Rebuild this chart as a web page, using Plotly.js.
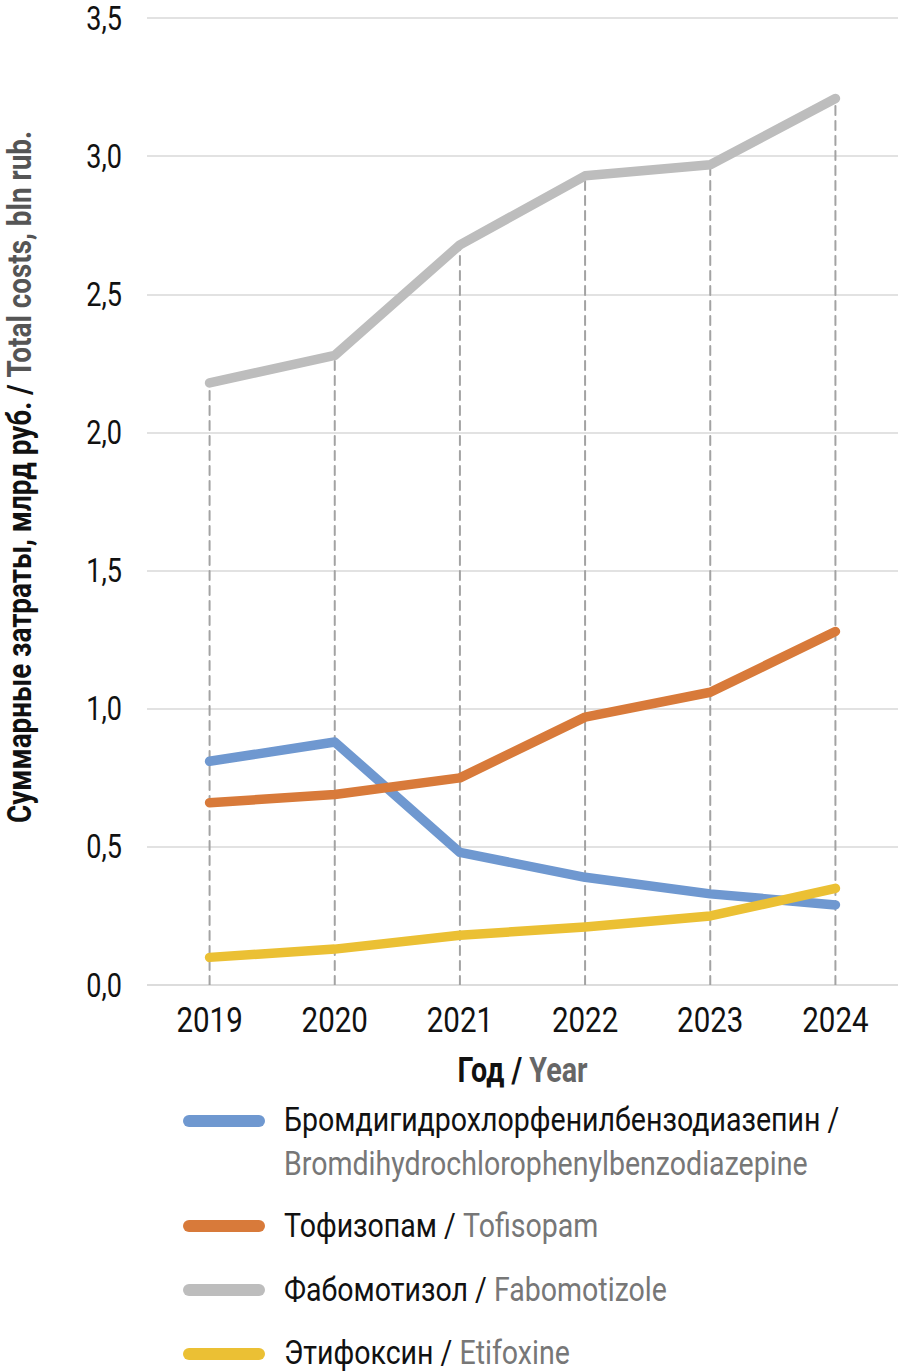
<!DOCTYPE html>
<html><head><meta charset="utf-8">
<script src="https://cdn.plot.ly/plotly-3.0.1.min.js"></script>
<style>
body{margin:0;background:#fff;}
.scatterlayer path.js-line{stroke-linecap:round;stroke-linejoin:round;}
.shapelayer path{stroke-linecap:round;}
</style>
</head><body>
<div id="chart" style="width:900px;height:1372px;"></div>
<script>
const years = ['2019','2020','2021','2022','2023','2024'];
const bromdihydro = [0.81, 0.88, 0.48, 0.39, 0.33, 0.29];
const tofisopam   = [0.66, 0.69, 0.75, 0.97, 1.06, 1.28];
const fabomotizole= [2.18, 2.28, 2.68, 2.93, 2.97, 3.21];
const etifoxine   = [0.10, 0.13, 0.18, 0.21, 0.25, 0.35];
const namesRu = ['Бромдигидрохлорфенилбензодиазепин', 'Тофизопам', 'Фабомотизол', 'Этифоксин'];
const namesEn = ['Bromdihydrochlorophenylbenzodiazepine', 'Tofisopam', 'Fabomotizole', 'Etifoxine'];
const yTickVals = [0, 0.5, 1, 1.5, 2, 2.5, 3, 3.5];
const yTitleRu = 'Суммарные затраты, млрд руб.';
const yTitleEn = 'Total costs, bln rub.';
const xTitleRu = 'Год';
const xTitleEn = 'Year';

const series = [bromdihydro, tofisopam, fabomotizole, etifoxine];
const colors = ['#6f98d0', '#d87a3a', '#bdbdbd', '#ebc034'];
const FONT = 'Roboto, "Liberation Sans", sans-serif';
const SQUEEZE = 0.82;
const SQUEEZE_LEGEND = 0.84;

// drop lines from the top series down to the axis
const dropX = [], dropY = [];
years.forEach((yr, i) => {
  const top = Math.max(...series.map(s => s[i]));
  dropX.push(yr, yr, null);
  dropY.push(0, top, null);
});

const traces = [{
  x: dropX, y: dropY, mode: 'lines', type: 'scatter', hoverinfo: 'skip',
  line: {color: '#a3a3a3', width: 2, dash: '9px,6px'}, showlegend: false
}];
series.forEach((s, i) => {
  traces.push({
    x: years, y: s, mode: 'lines', type: 'scatter', name: namesRu[i],
    line: {color: colors[i], width: 9.5}, showlegend: false
  });
});

const L = 147, T = 17, B = 387, W = 900, H = 1372;
const pw = W - L - 2, ph = H - T - B;
const px2x = p => (p - L) / pw;
const px2y = p => (H - B - p) / ph;

const legendY = [1140.5, 1225, 1289, 1352];
const legendLineY = [1121, 1226, 1290, 1354];
const annotations = [];
const shapes = [];
namesRu.forEach((n, i) => {
  const txt = i === 0
    ? n + ' /<br><span style="color:#777">' + namesEn[i] + '</span>'
    : n + ' / <span style="color:#777">' + namesEn[i] + '</span>';
  annotations.push({
    xref: 'paper', yref: 'paper', x: px2x(283), y: px2y(legendY[i]),
    xanchor: 'left', yanchor: 'middle', align: 'left', showarrow: false,
    borderpad: 0,
    text: txt, font: {family: FONT, size: 34, color: '#111'}
  });
  shapes.push({
    type: 'line', xref: 'paper', yref: 'paper',
    x0: px2x(189), x1: px2x(259), y0: px2y(legendLineY[i]), y1: px2y(legendLineY[i]),
    line: {color: colors[i], width: 12}
  });
});
annotations.push({
  xref: 'paper', yref: 'paper', x: px2x(19), y: px2y(477), textangle: -90,
  xanchor: 'center', yanchor: 'middle', showarrow: false, borderpad: 0,
  text: '<b>' + yTitleRu + ' / <span style="color:#555">' + yTitleEn + '</span></b>',
  font: {family: FONT, size: 34, color: '#111'}
});

const layout = {
  width: W, height: H,
  margin: {l: L, r: 2, t: T, b: B},
  paper_bgcolor: '#fff', plot_bgcolor: '#fff',
  separators: ',.',
  showlegend: false,
  font: {family: FONT, color: '#111'},
  xaxis: {
    type: 'category', range: [-0.5, 5.5], showgrid: false, zeroline: false,
    showline: false, ticks: '', ticklabelstandoff: 10,
    tickfont: {family: FONT, size: 36, color: '#111'},
    title: {text: '<b>' + xTitleRu + ' / <span style="color:#666">' + xTitleEn + '</span></b>',
            font: {family: FONT, size: 35, color: '#111'}, standoff: 17}
  },
  yaxis: {
    range: [0, 3.505], tickvals: yTickVals, tickformat: '.1f',
    showgrid: true, gridcolor: '#e2e2e2', gridwidth: 2,
    zeroline: true, zerolinecolor: '#dcdcdc', zerolinewidth: 2,
    showline: false, ticks: '', ticklabelstandoff: 24, ticklabeloverflow: 'allow',
    tickfont: {family: FONT, size: 33, color: '#111'}
  },
  annotations: annotations,
  shapes: shapes
};

// narrow the glyphs horizontally, the source chart uses a condensed face
function condense(gd) {
  gd.querySelectorAll('svg text').forEach(el => {
    const bb = el.getBBox();
    if (!bb.width) return;
    const anchor = el.getAttribute('text-anchor') || getComputedStyle(el).textAnchor || 'start';
    let ax = bb.x;
    if (anchor === 'middle') ax = bb.x + bb.width / 2;
    else if (anchor === 'end') ax = bb.x + bb.width;
    const isLegend = /Tofisopam|Fabomotizole|Etifoxine|Bromdihydro/.test(el.textContent);
    const k = isLegend ? SQUEEZE_LEGEND : SQUEEZE;
    const t = el.getAttribute('transform') || '';
    el.setAttribute('transform', t + ' translate(' + ax + ',0) scale(' + k + ',1) translate(' + (-ax) + ',0)');
  });
}

Plotly.newPlot('chart', traces, layout, {staticPlot: true, displayModeBar: false})
  .then(gd => condense(gd));
</script>
</body></html>
